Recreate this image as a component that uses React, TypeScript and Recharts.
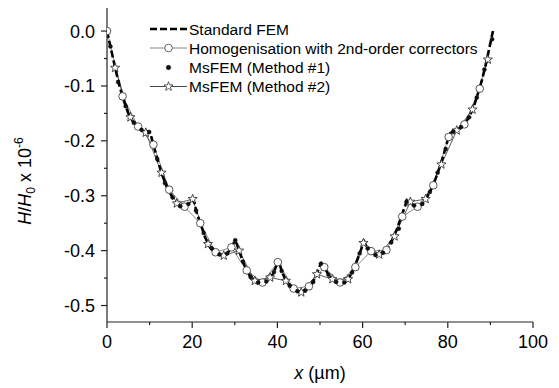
import React from 'react';
import { ComposedChart, Line, XAxis, YAxis, Legend } from 'recharts';

// ---- data (x in µm, y = H/H0 x 1e-6) ----
const femPts: [number, number][] = [
  [0, 0], [1, -0.035], [2, -0.07], [3, -0.102], [4, -0.128], [5, -0.15], [6, -0.164], [7, -0.172],
  [8, -0.179], [9, -0.185], [9.8, -0.183], [10.3, -0.19], [11, -0.21], [12, -0.238], [13, -0.263],
  [14, -0.283], [15, -0.298], [16, -0.311], [17, -0.318], [18, -0.32], [19, -0.316], [20, -0.307],
  [20.5, -0.312], [21, -0.33], [22, -0.352], [23, -0.375], [24, -0.392], [25, -0.401], [26, -0.406],
  [27, -0.409], [28, -0.407], [29, -0.397], [30, -0.382], [30.5, -0.388], [31, -0.4], [32, -0.422],
  [33, -0.439], [34, -0.451], [35, -0.457], [36, -0.459], [37, -0.457], [38, -0.452], [39, -0.442],
  [40, -0.423], [40.5, -0.424], [41, -0.437], [42, -0.455], [43, -0.465], [44, -0.471], [45, -0.475],
  [46, -0.475], [47, -0.47], [48, -0.462], [49, -0.447], [50, -0.427], [50.3, -0.423], [51, -0.43],
  [52, -0.444], [53, -0.453], [54, -0.458], [55, -0.459], [56, -0.456], [57, -0.447], [58, -0.432],
  [59, -0.412], [60, -0.39], [60.4, -0.384], [61, -0.394], [62, -0.403], [63, -0.408], [64, -0.407],
  [65, -0.403], [66, -0.395], [67, -0.38], [68, -0.362], [69, -0.34], [70, -0.318], [70.4, -0.308],
  [71, -0.31], [72, -0.318], [73, -0.32], [74, -0.315], [75, -0.304], [76, -0.29], [77, -0.272],
  [78, -0.25], [79, -0.226], [80, -0.198], [80.6, -0.186], [81, -0.184], [82, -0.181], [83, -0.176],
  [84, -0.168], [85, -0.157], [86, -0.14], [87, -0.116], [88, -0.09], [89, -0.058], [90, -0.022],
  [90.6, 0],
];

const homPts: [number, number][] = [
  [0, 0], [3.65, -0.119], [7.3, -0.174], [10.9, -0.207], [14.6, -0.289], [18.2, -0.32], [21.9, -0.35],
  [25.5, -0.403], [29.2, -0.394], [32.8, -0.436], [36.5, -0.458], [40.1, -0.421], [43.8, -0.469],
  [47.4, -0.465], [51.0, -0.43], [54.7, -0.458], [58.3, -0.43], [62.0, -0.401], [65.6, -0.399],
  [69.3, -0.338], [72.9, -0.32], [76.6, -0.281], [80.2, -0.193], [83.9, -0.17], [87.5, -0.105],
];

const ms1Pts: [number, number][] = [
  [0.8, -0.028], [2.6, -0.093], [4.4, -0.137], [6.3, -0.167], [8.1, -0.18], [9.9, -0.184],
  [11.8, -0.233], [13.6, -0.277], [15.4, -0.303], [17.2, -0.319], [19.1, -0.315], [20.9, -0.327],
  [22.7, -0.368], [24.6, -0.396], [26.4, -0.407], [28.2, -0.405], [30.1, -0.381], [31.9, -0.42],
  [33.7, -0.448], [35.5, -0.458], [37.4, -0.456], [39.2, -0.439], [41.0, -0.437], [42.9, -0.464],
  [44.7, -0.474], [46.5, -0.473], [48.4, -0.457], [50.2, -0.424], [52.0, -0.444], [53.8, -0.457],
  [55.7, -0.458], [57.5, -0.44], [59.3, -0.405], [61.2, -0.396], [63.0, -0.408], [64.8, -0.404],
  [66.7, -0.385], [68.5, -0.36], [70.3, -0.311], [72.1, -0.318], [74.0, -0.315], [75.8, -0.293],
  [77.6, -0.258], [79.5, -0.215], [81.3, -0.183], [83.1, -0.175], [85.0, -0.157], [86.8, -0.121],
  [88.6, -0.07], [90.4, -0.015],
];

const ms2Pts: [number, number][] = [
  [1.9, -0.067], [5.5, -0.157], [9.1, -0.185], [12.8, -0.258], [16.4, -0.314], [20.1, -0.306],
  [23.7, -0.388], [27.4, -0.409], [31.0, -0.4], [34.7, -0.455], [38.3, -0.449], [42.0, -0.455],
  [45.6, -0.476], [49.3, -0.443], [52.9, -0.452], [56.6, -0.452], [60.2, -0.386], [63.9, -0.407],
  [67.5, -0.374], [71.2, -0.311], [74.8, -0.306], [78.5, -0.243], [82.1, -0.181], [85.8, -0.143],
  [89.4, -0.052],
];

const xTicks = [0, 10, 20, 30, 40, 50, 60, 70, 80, 90, 100];
const xMajor = [0, 20, 40, 60, 80, 100];
const yTicks = [0, -0.05, -0.1, -0.15, -0.2, -0.25, -0.3, -0.35, -0.4, -0.45, -0.5];
const yMajor = [0, -0.1, -0.2, -0.3, -0.4, -0.5];

const seriesNames = [
  'Standard FEM',
  'Homogenisation with 2nd-order correctors',
  'MsFEM (Method #1)',
  'MsFEM (Method #2)',
];

const toRows = (pts: [number, number][]) => pts.map(([x, y]) => ({ x, y }));
const femData = toRows(femPts);
const homData = toRows(homPts);
const ms1Data = toRows(ms1Pts);
const ms2Data = toRows(ms2Pts);

const FONT = '"Liberation Sans", Arial, sans-serif';
const TICK_SIZE = 6;
const TICK_MARGIN = 4;

const isMajor = (v: number, majors: number[]) => majors.some((m) => Math.abs(m - v) < 1e-9);

const XTick = (props: any) => {
  const { x, y, payload } = props;
  const v = payload.value;
  const axisY = y - TICK_SIZE - TICK_MARGIN;
  const major = isMajor(v, xMajor);
  return (
    <g>
      <line x1={x} x2={x} y1={axisY} y2={axisY + (major ? 6 : 3)} stroke="#222" strokeWidth={1.2} />
      {major && (
        <text x={x} y={axisY + 26} textAnchor="middle" fontSize={18} fontFamily={FONT} fill="#000">
          {String(v)}
        </text>
      )}
    </g>
  );
};

const YTick = (props: any) => {
  const { x, y, payload } = props;
  const v = payload.value;
  const axisX = x + TICK_SIZE + TICK_MARGIN;
  const major = isMajor(v, yMajor);
  return (
    <g>
      <line x1={axisX} x2={axisX - (major ? 6 : 3)} y1={y} y2={y} stroke="#222" strokeWidth={1.2} />
      {major && (
        <text x={axisX - 12} y={y + 6.5} textAnchor="end" fontSize={18} fontFamily={FONT} fill="#000">
          {v.toFixed(1)}
        </text>
      )}
    </g>
  );
};

const starPath = (cx: number, cy: number, R: number) => {
  const r = R * 0.42;
  let d = '';
  for (let i = 0; i < 10; i++) {
    const rad = i % 2 === 0 ? R : r;
    const a = -Math.PI / 2 + (i * Math.PI) / 5;
    d += (i === 0 ? 'M' : 'L') + (cx + rad * Math.cos(a)).toFixed(2) + ',' + (cy + rad * Math.sin(a)).toFixed(2);
  }
  return d + 'Z';
};

const StarDot = (props: any) => {
  const { cx, cy } = props;
  if (cx == null || cy == null) return <g />;
  return <path d={starPath(cx, cy, 4.8)} fill="#fff" stroke="#222" strokeWidth={0.8} />;
};

const CircleDot = (props: any) => {
  const { cx, cy } = props;
  if (cx == null || cy == null) return <g />;
  return <circle cx={cx} cy={cy} r={3.8} fill="#fff" stroke="#444" strokeWidth={0.9} />;
};

const FilledDot = (props: any) => {
  const { cx, cy } = props;
  if (cx == null || cy == null) return <g />;
  return <circle cx={cx} cy={cy} r={2} fill="#111" stroke="#000" strokeWidth={0.4} />;
};

const LegendContent = () => {
  const rowY = [11, 30, 49.5, 68.5];
  const x1 = 10;
  const x2 = 47;
  const xm = (x1 + x2) / 2;
  return (
    <svg width={380} height={82} style={{ display: 'block', overflow: 'visible' }}>
      <line x1={x1} x2={x2} y1={rowY[0]} y2={rowY[0]} stroke="#000" strokeWidth={2.6} strokeDasharray="7 3" />
      <line x1={x1} x2={x2} y1={rowY[1]} y2={rowY[1]} stroke="#888" strokeWidth={1.2} />
      <circle cx={xm} cy={rowY[1]} r={3.8} fill="#fff" stroke="#666" strokeWidth={1} />
      <circle cx={xm} cy={rowY[2]} r={2.2} fill="#111" stroke="#000" strokeWidth={0.5} />
      <line x1={x1} x2={x2} y1={rowY[3]} y2={rowY[3]} stroke="#333" strokeWidth={0.9} />
      <path d={starPath(xm, rowY[3], 4.8)} fill="#fff" stroke="#333" strokeWidth={0.8} />
      {seriesNames.map((n, i) => (
        <text key={n} x={49} y={rowY[i] + 5.5} fontSize={15.5} fontFamily={FONT} fill="#000">
          {n}
        </text>
      ))}
    </svg>
  );
};

const YLabel = () => (
  <text
    x={31}
    y={181}
    transform="rotate(-90, 31, 181)"
    textAnchor="middle"
    fontSize={18}
    fontFamily={FONT}
    fill="#000"
  >
    <tspan fontStyle="italic">H</tspan>
    <tspan>/</tspan>
    <tspan fontStyle="italic">H</tspan>
    <tspan fontSize={12} dy={4}>0</tspan>
    <tspan dy={-4}> x 10</tspan>
    <tspan fontSize={12} dy={-8}>-6</tspan>
  </text>
);

const XLabel = () => (
  <text x={320} y={379} textAnchor="middle" fontSize={18} fontFamily={FONT} fill="#000">
    <tspan fontStyle="italic">x</tspan>
    <tspan> (µm)</tspan>
  </text>
);

export default function App() {
  return (
    <div style={{ position: 'absolute', left: 0, top: 0, width: 559, height: 388, background: '#fff' }}>
      <ComposedChart width={559} height={388} margin={{ top: 8, right: 26, left: 0, bottom: 0 }}>
        <XAxis
          dataKey="x"
          type="number"
          domain={[0, 100]}
          ticks={xTicks}
          interval={0}
          height={66}
          tickSize={TICK_SIZE}
          tickMargin={TICK_MARGIN}
          tickLine={false}
          tick={<XTick />}
          axisLine={{ stroke: '#222', strokeWidth: 1.2 }}
          allowDataOverflow
          label={<XLabel />}
        />
        <YAxis
          dataKey="y"
          type="number"
          domain={[-0.53, 0.042]}
          ticks={yTicks}
          interval={0}
          width={107}
          tickSize={TICK_SIZE}
          tickMargin={TICK_MARGIN}
          tickLine={false}
          tick={<YTick />}
          axisLine={{ stroke: '#222', strokeWidth: 1.2 }}
          allowDataOverflow
          label={<YLabel />}
        />
        <Legend
          layout="horizontal"
          verticalAlign="middle"
          align="center"
          content={<LegendContent />}
          wrapperStyle={{ position: 'absolute', left: 140, top: 18, width: 380, height: 82 }}
        />
        <Line
          data={homData}
          dataKey="y"
          type="linear"
          stroke="#888"
          strokeWidth={1}
          dot={<CircleDot />}
          activeDot={false}
          isAnimationActive={false}
          legendType="none"
        />
        <Line
          data={ms2Data}
          dataKey="y"
          type="linear"
          stroke="#333"
          strokeWidth={0.8}
          dot={<StarDot />}
          activeDot={false}
          isAnimationActive={false}
          legendType="none"
        />
        <Line
          data={femData}
          dataKey="y"
          type="linear"
          stroke="#000"
          strokeWidth={2.6}
          strokeDasharray="7 3"
          dot={false}
          activeDot={false}
          isAnimationActive={false}
          legendType="none"
        />
        <Line
          data={ms1Data}
          dataKey="y"
          type="linear"
          stroke="none"
          strokeWidth={0}
          dot={<FilledDot />}
          activeDot={false}
          isAnimationActive={false}
          legendType="none"
        />
      </ComposedChart>
    </div>
  );
}
